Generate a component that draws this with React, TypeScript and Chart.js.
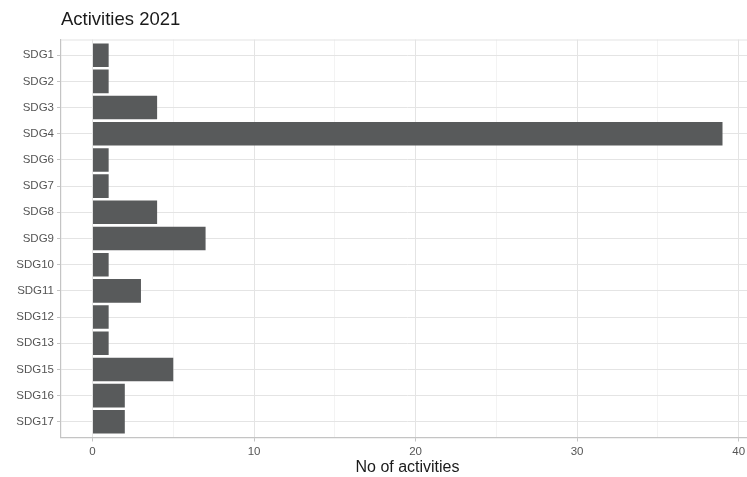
import React, { useEffect, useRef } from "react";
import { Chart, registerables } from "chart.js";

Chart.register(...registerables);

const TITLE = "Activities 2021";
const X_TITLE = "No of activities";
const CATEGORIES = ["SDG1", "SDG2", "SDG3", "SDG4", "SDG6", "SDG7", "SDG8", "SDG9", "SDG10", "SDG11", "SDG12", "SDG13", "SDG15", "SDG16", "SDG17"];
const VALUES = [1, 1, 4, 39, 1, 1, 4, 7, 1, 3, 1, 1, 5, 2, 2];
const X_TICKS = [0, 5, 10, 15, 20, 25, 30, 35, 40];
const X_LABELLED = [0, 10, 20, 30, 40];

const FONT = "'Liberation Sans', Arial, Helvetica, sans-serif";

const panelBorder = {
  id: "panelBorder",
  afterDraw(chart: any) {
    const { ctx, chartArea } = chart;
    ctx.save();
    ctx.strokeStyle = "#e3e3e3";
    ctx.lineWidth = 1;
    ctx.beginPath();
    ctx.moveTo(chartArea.left, chartArea.top + 0.5);
    ctx.lineTo(chartArea.right, chartArea.top + 0.5);
    ctx.stroke();
    ctx.restore();
  },
};

export default function App() {
  const ref = useRef<HTMLCanvasElement>(null);
  useEffect(() => {
    if (!ref.current) return;
    const data = CATEGORIES.map((c, i) => ({ x: VALUES[i], y: i }));
    const chart = new Chart(ref.current, {
      type: "bar",
      data: {
        datasets: [
          {
            data: data as any,
            backgroundColor: "#585a5b",
            borderWidth: 0,
            barPercentage: 0.9,
            categoryPercentage: 1,
          },
        ],
      },
      plugins: [panelBorder],
      options: {
        indexAxis: "y",
        animation: false,
        responsive: false,
        maintainAspectRatio: false,
        layout: { padding: { left: 0, right: 0, top: 0, bottom: 0 } },
        plugins: {
          legend: { display: false },
          tooltip: { enabled: false },
          title: {
            display: true,
            text: TITLE,
            align: "start",
            fullSize: false,
            color: "#1a1a1a",
            font: { family: FONT, size: 18.5, weight: "normal" },
            padding: { top: 9, bottom: 8.3 },
          },
        },
        scales: {
          x: {
            type: "linear",
            position: "bottom",
            min: -1.95,
            max: 40.95,
            offset: false,
            afterBuildTicks: (scale: any) => {
              scale.ticks = X_TICKS.map((v) => ({ value: v }));
            },
            afterFit: (scale: any) => {
              scale.height = 39.5;
            },
            ticks: {
              autoSkip: false,
              maxRotation: 0,
              color: "#555555",
              font: { family: FONT, size: 11.5 },
              padding: 3.5,
              callback: (v: any) => (X_LABELLED.includes(Number(v)) ? String(v) : ""),
            },
            grid: {
              offset: false,
              color: (c: any) => (X_LABELLED.includes(c.tick?.value) ? "#e4e4e4" : "#f3f3f3"),
              tickColor: (c: any) => (X_LABELLED.includes(c.tick?.value) ? "#c4c4c4" : "rgba(0,0,0,0)"),
              tickLength: 4,
              lineWidth: 1,
            },
            border: { display: true, color: "#c4c4c4", width: 1.2 },
            title: {
              display: true,
              text: X_TITLE,
              color: "#1a1a1a",
              font: { family: FONT, size: 16 },
              padding: { top: 0, bottom: 0 },
            },
          },
          y: {
            type: "linear",
            reverse: true,
            offset: false,
            min: -0.6,
            max: CATEGORIES.length - 1 + 0.6,
            afterBuildTicks: (scale: any) => {
              scale.ticks = CATEGORIES.map((_, i) => ({ value: i }));
            },
            afterFit: (scale: any) => {
              scale.width = 61;
            },
            ticks: {
              autoSkip: false,
              color: "#555555",
              font: { family: FONT, size: 11.5 },
              padding: 3,
              callback: (v: any) => CATEGORIES[Number(v)] ?? "",
            },
            grid: {
              offset: false,
              color: "#e4e4e4",
              tickColor: "#c4c4c4",
              tickLength: 4,
              lineWidth: 1,
            },
            border: { display: true, color: "#c4c4c4", width: 1.2 },
          },
        },
      },
    });
    return () => chart.destroy();
  }, []);

  return (
    <div style={{ position: "fixed", left: 0, top: 0, width: 747, height: 477, overflow: "hidden", background: "#fff" }}>
      <canvas ref={ref} width={754} height={477} style={{ width: 754, height: 477, display: "block" }} />
    </div>
  );
}
